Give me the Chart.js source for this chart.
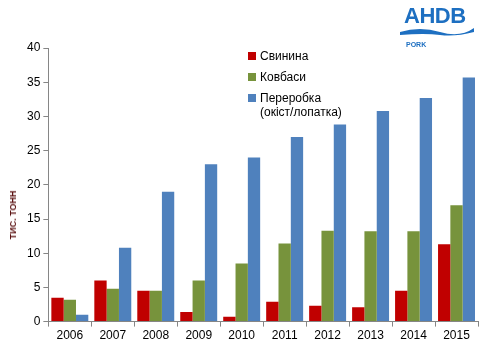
<!DOCTYPE html>
<html>
<head>
<meta charset="utf-8">
<script src="https://cdn.jsdelivr.net/npm/chart.js@4"></script>
<style>
  body { margin: 0; background: #fff; }
  #wrap { position: relative; width: 480px; height: 344px; }
  #legend { position: absolute; left: 248px; top: 49px; font-family: "Liberation Sans", Arial, sans-serif; font-size: 12px; color: #000; }
  .item { display: flex; align-items: flex-start; margin-bottom: 7px; line-height: 14px; }
  .sw { width: 8px; height: 8px; margin: 3px 4px 0 0; flex: none; }
  #ytitle { position: absolute; left: 13px; top: 215px; transform: translate(-50%, -50%) rotate(-90deg); font-family: "Liberation Sans", Arial, sans-serif; font-size: 9px; font-weight: bold; color: #5a1010; white-space: nowrap; }
  #logo { position: absolute; left: 404px; top: 3px; font-family: "Liberation Sans", Arial, sans-serif; color: #1d6fc1; }
  #logo .big { font-size: 22px; font-weight: bold; letter-spacing: -0.5px; line-height: 26px; }
  #logo .small { font-size: 7px; font-weight: bold; margin-left: 2px; }
</style>
</head>
<body>
<div id="wrap">
  <canvas id="chart" width="480" height="344"></canvas>
  <div id="legend"></div>
  <div id="ytitle">ТИС. ТОНН</div>
  <div id="logo">
    <div class="big">AHDB</div>
    <svg width="74" height="11" style="position:absolute;left:-4px;top:23px"><path d="M0 6 Q20 0 40 6 T74 2 L74 6 Q55 11 40 9 T0 9 Z" fill="#1d6fc1"/></svg>
    <div class="small" style="margin-top:12px">PORK</div>
  </div>
</div>
<script>
// роки
const years = ["2006", "2007", "2008", "2009", "2010", "2011", "2012", "2013", "2014", "2015"];
// тис. тонн
const svynyna = [3.5, 6.0, 4.5, 1.4, 0.7, 2.9, 2.3, 2.1, 4.5, 11.3];
const kovbasy = [3.2, 4.8, 4.5, 6.0, 8.5, 11.4, 13.3, 13.2, 13.2, 17.0];
const pererobka = [1.0, 10.8, 19.0, 23.0, 24.0, 27.0, 28.8, 30.8, 32.7, 35.7];
const seriesNames = ["Свинина", "Ковбаси", "Переробка (окіст/лопатка)"];
const colors = ["#c00000", "#77933c", "#4f81bd"];

// легенда
const legendEl = document.getElementById("legend");
seriesNames.forEach(function(name, i) {
    const row = document.createElement("div");
    row.className = "item";
    const label = i == 2 ? "Переробка<br>(окіст/лопатка)" : name;
    row.innerHTML = '<span class="sw" style="background:' + colors[i] + '"></span><span>' + label + '</span>';
    legendEl.appendChild(row);
});

const axisFont = { family: "Liberation Sans, Arial, sans-serif", size: 12 };

new Chart(document.getElementById("chart"), {
    type: 'bar',
    data: {
        labels: years,
        datasets: [svynyna, kovbasy, pererobka].map(function(d, i) {
            return {
                label: seriesNames[i],
                data: d,
                backgroundColor: colors[i],
                borderWidth: 0,
                barPercentage: 1.0,
                categoryPercentage: 0.86
            };
        })
    },
    options: {
        responsive: false,
        animation: false,
        layout: { padding: { top: 48, right: 2, left: 24, bottom: -1 } },
        plugins: { legend: { display: false }, tooltip: { enabled: false } },
        scales: {
            x: {
                grid: { display: true, drawOnChartArea: false, drawTicks: true, tickLength: 5, color: '#868686', offset: true },
                border: { color: '#868686' },
                ticks: { color: '#000', font: axisFont, padding: 2 }
            },
            y: {
                min: 0,
                max: 40,
                grid: { display: true, drawOnChartArea: false, drawTicks: true, tickLength: 5, color: '#868686' },
                border: { color: '#868686' },
                ticks: { stepSize: 5, color: '#000', font: axisFont, padding: 3 }
            }
        }
    }
});
</script>
</body>
</html>
